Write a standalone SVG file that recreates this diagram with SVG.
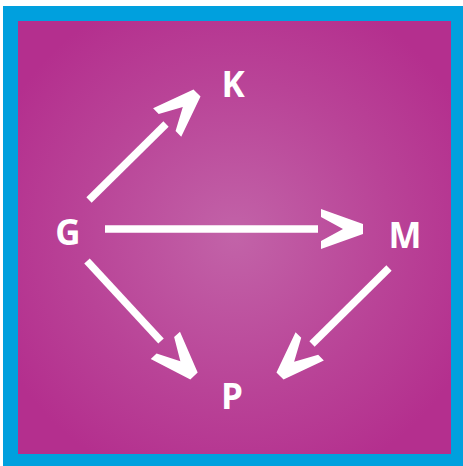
<svg xmlns="http://www.w3.org/2000/svg" width="463" height="466" viewBox="0 0 463 466">
  <defs>
    <radialGradient id="bg" cx="235" cy="237" r="260" gradientUnits="userSpaceOnUse">
      <stop offset="0" stop-color="#c263a8"/>
      <stop offset="0.6" stop-color="#b94397"/>
      <stop offset="1" stop-color="#b42f8e"/>
    </radialGradient>
    <polygon id="head" points="0,-5 0,5 -42,20 -42,12 -20,0 -42,-12 -42,-20" fill="#ffffff"/>
    <style>
      .lbl { font-family: "Open Sans", "DejaVu Sans", sans-serif; font-weight: 700; font-size: 35px; fill: #ffffff; text-anchor: middle; }
      .edge { stroke: #ffffff; stroke-width: 7.5; fill: none; }
    </style>
  </defs>
  <rect x="3" y="6" width="460" height="460" fill="#00a0de"/>
  <rect x="18" y="21" width="433" height="433" fill="url(#bg)"/>
  <g id="connectors">
    <g id="e-G-K">
      <line class="edge" x1="89" y1="200" x2="166" y2="124"/>
      <use href="#head" transform="translate(197,93) rotate(-44.7)"/>
    </g>
    <g id="e-G-M">
      <line class="edge" x1="105" y1="229" x2="318" y2="229"/>
      <use href="#head" transform="translate(363,229)"/>
    </g>
    <g id="e-G-P">
      <line class="edge" x1="87" y1="261" x2="161" y2="341"/>
      <use href="#head" transform="translate(194,376) rotate(47)"/>
    </g>
    <g id="e-M-P">
      <line class="edge" x1="389" y1="268" x2="312" y2="344"/>
      <use href="#head" transform="translate(280,376) rotate(135)"/>
    </g>
  </g>
  <g id="node-K"><text class="lbl" x="233" y="97">K</text></g>
  <g id="node-G"><text class="lbl" x="68" y="245">G</text></g>
  <g id="node-M"><text class="lbl" x="405" y="248">M</text></g>
  <g id="node-P"><text class="lbl" x="232" y="409">P</text></g>
</svg>
